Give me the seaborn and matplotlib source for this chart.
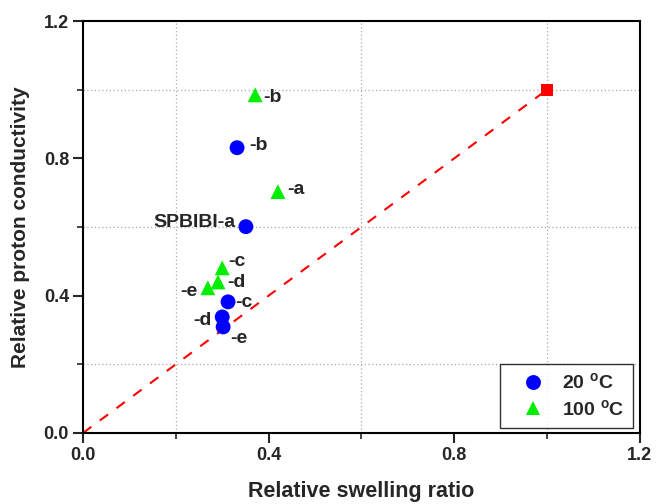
import matplotlib
matplotlib.use("Agg")
import matplotlib.pyplot as plt
import seaborn as sns
import pandas as pd

# Data
samples = ["a", "b", "c", "d", "e"]
swell_20 = [0.351, 0.332, 0.3125, 0.300, 0.302]
cond_20 = [0.601, 0.831, 0.382, 0.338, 0.309]
swell_100 = [0.420, 0.371, 0.300, 0.291, 0.269]
cond_100 = [0.703, 0.985, 0.481, 0.440, 0.423]
ref_x = [1.0]
ref_y = [1.0]
labels_20 = ["SPBIBI-a", "-b", "-c", "-d", "-e"]
labels_100 = ["-a", "-b", "-c", "-d", "-e"]
series_names = ["20 $^{\\mathregular{o}}$C", "100 $^{\\mathregular{o}}$C"]
tick_vals = [0.0, 0.4, 0.8, 1.2]
tick_labels = ["0.0", "0.4", "0.8", "1.2"]
minor_vals = [0.2, 0.6, 1.0]

sns.set_style("white")
plt.rcParams['font.family'] = ['Liberation Sans', 'DejaVu Sans']
plt.rcParams['font.weight'] = 'bold'
plt.rcParams['mathtext.default'] = 'regular'

df = pd.DataFrame({
    "x": swell_20 + swell_100,
    "y": cond_20 + cond_100,
    "series": [series_names[0]] * 5 + [series_names[1]] * 5,
})

fig = plt.figure(figsize=(6.56, 5.04), dpi=100)
ax = fig.add_axes([0.1265, 0.1409, 0.849, 0.8174])

# diagonal reference line
ax.plot([0, ref_x[0]], [0, ref_y[0]], color="#ff0000", ls=(0, (5, 5)), lw=1.5, zorder=1)
ax.scatter(ref_x, ref_y, marker="s", s=85, color="#ff0000", zorder=3, linewidths=0)

sns.scatterplot(data=df, x="x", y="y", hue="series", style="series",
                palette={series_names[0]: "#0000ff", series_names[1]: "#00ee00"},
                markers={series_names[0]: "o", series_names[1]: "^"},
                s=115, edgecolor="none", linewidth=0, ax=ax, zorder=4)

# annotations (offsets in pixels)
fs = 14
off20 = [(-10, 6, "right"), (12, 4, "left"), (7, 1, "left"), (-11, -2, "right"), (7, -10, "left")]
off100 = [(9, 4, "left"), (8, -1, "left"), (6, 8, "left"), (9, 1, "left"), (-10, -2, "right")]
for x, y, t, (dx, dy, ha) in zip(swell_20, cond_20, labels_20, off20):
    ax.annotate(t, (x, y), xytext=(dx, dy), textcoords="offset pixels", ha=ha,
                va="center_baseline", fontsize=fs, fontweight="bold")
for x, y, t, (dx, dy, ha) in zip(swell_100, cond_100, labels_100, off100):
    ax.annotate(t, (x, y), xytext=(dx, dy), textcoords="offset pixels", ha=ha,
                va="center_baseline", fontsize=fs, fontweight="bold")

ax.set_xlim(0, 1.2)
ax.set_ylim(0, 1.2)
ax.set_xticks(tick_vals)
ax.set_yticks(tick_vals)
ax.set_xticks(minor_vals, minor=True)
ax.set_yticks(minor_vals, minor=True)
ax.set_xticklabels(tick_labels)
ax.set_yticklabels(tick_labels)
ax.tick_params(axis="both", which="major", direction="out", length=7, width=1.5,
               labelsize=13, pad=3, bottom=True, left=True, top=False, right=False)
ax.tick_params(axis="both", which="minor", direction="out", length=4, width=1.2,
               bottom=True, left=True, top=False, right=False)
ax.grid(which="minor", color="#aaaaaa", ls=(0, (1, 2)), lw=0.9)
ax.grid(which="major", visible=False)
for sp in ax.spines.values():
    sp.set_linewidth(1.5)
    sp.set_color("black")

ax.set_xlabel("Relative swelling ratio", fontsize=15.5, fontweight="bold", labelpad=12)
ax.set_ylabel("Relative proton conductivity", fontsize=15, fontweight="bold", labelpad=10)

leg = ax.legend(loc="lower right", fontsize=14, frameon=True, fancybox=False,
                edgecolor="black", borderpad=0.45, labelspacing=0.35, handletextpad=0.2,
                handlelength=2.5, borderaxespad=0, markerscale=1.0,
                bbox_to_anchor=(0.987, 0.012))
leg.get_frame().set_linewidth(1.0)
for t in leg.get_texts():
    t.set_fontweight("bold")

fig.savefig("out.png", dpi=100)
